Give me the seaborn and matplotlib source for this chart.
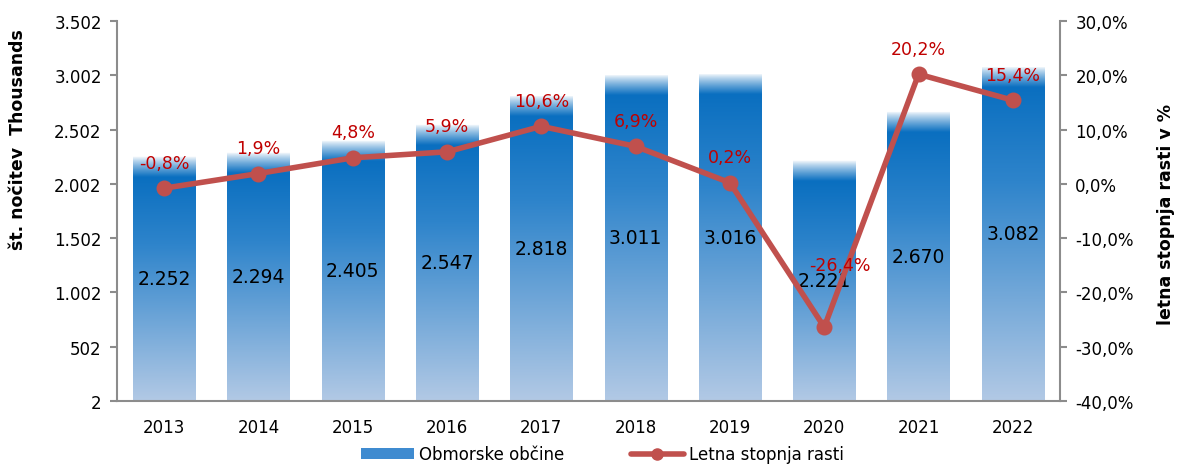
import numpy as np
import pandas as pd
import matplotlib
matplotlib.use("Agg")
import matplotlib.pyplot as plt
import seaborn as sns
from matplotlib.colors import to_rgba
from matplotlib.lines import Line2D
from matplotlib.patches import Patch

years = ["2013", "2014", "2015", "2016", "2017", "2018", "2019", "2020", "2021", "2022"]
nights = [2252, 2294, 2405, 2547, 2818, 3011, 3016, 2221, 2670, 3082]  # thousands
growth = [-0.8, 1.9, 4.8, 5.9, 10.6, 6.9, 0.2, -26.4, 20.2, 15.4]  # %
left_ticks = [2, 502, 1002, 1502, 2002, 2502, 3002, 3502]
right_ticks = [-40, -30, -20, -10, 0, 10, 20, 30]
bar_name = "Obmorske občine"
line_name = "Letna stopnja rasti"

sns.set_theme(style="white")
plt.rcParams["font.family"] = ["DejaVu Sans"]
plt.rcParams["text.color"] = "black"
plt.rcParams["xtick.labelcolor"] = "black"
plt.rcParams["ytick.labelcolor"] = "black"

fig = plt.figure(figsize=(11.81, 4.77), dpi=100)
ax = fig.add_axes([117 / 1181, 1 - 402 / 477, (1060 - 117) / 1181, (402 - 22) / 477])

df = pd.DataFrame({"year": years, "nights": nights, "growth": growth})
sns.barplot(data=df, x="year", y="nights", ax=ax, width=0.66, color="#1F7BC6",
            edgecolor="none", linewidth=0)
ax.set_xlim(-0.5, len(years) - 0.5)
ax.set_ylim(left_ticks[0], left_ticks[-1])

# gradient fill for each bar
top_c = np.array(to_rgba("#0A6FC0"))
mid_c = np.array(to_rgba("#2E84CB"))
bot_c = np.array(to_rgba("#B2C9E5"))
white = np.array([1, 1, 1, 1.0])
fade = 190.0


def grad_column(h, y0, n=300):
    ys = np.linspace(h, y0, n)
    cols = np.zeros((n, 4))
    for i, yv in enumerate(ys):
        d = h - yv
        if d < fade:
            t = (d / fade) ** 0.8
            c = white * (1 - t) + top_c * t
        else:
            t = (d - fade) / max(h - y0 - fade, 1)
            if t < 0.3:
                s = t / 0.3
                c = top_c * (1 - s) + mid_c * s
            else:
                s = (t - 0.3) / 0.7
                c = mid_c * (1 - s) + bot_c * s
        cols[i] = c
    return cols[:, None, :]


for p in ax.patches:
    x0, w, h = p.get_x(), p.get_width(), p.get_height()
    y0 = left_ticks[0]
    ax.imshow(grad_column(h, y0), extent=(x0, x0 + w, y0, h), aspect="auto",
              zorder=2, interpolation="bilinear")
    p.set_visible(False)
ax.set_xlim(-0.5, len(years) - 0.5)
ax.set_ylim(left_ticks[0], left_ticks[-1])

for i, v in enumerate(nights):
    ax.text(i, (v + left_ticks[0]) / 2, f"{v:,}".replace(",", "."), ha="center",
            va="center", fontsize=13.5, color="black", zorder=5)

ax.set_yticks(left_ticks)
ax.set_yticklabels([f"{v:,}".replace(",", ".") for v in left_ticks], fontsize=12)
ax.set_xticks(range(len(years)))
ax.set_xticklabels(years, fontsize=12)
ax.set_xticks(np.arange(-0.5, len(years)), minor=True)
ax.tick_params(axis="x", which="major", length=0, pad=12, labelcolor="black")
ax.tick_params(axis="x", which="minor", length=5, width=1.5, color="#8C8C8C", direction="out")
ax.tick_params(axis="y", length=5, width=1.5, color="#8C8C8C", direction="out",
               left=True, pad=6, labelcolor="black")
ax.set_xlabel("")
ax.set_ylabel("")
for s in ["left", "bottom"]:
    ax.spines[s].set_color("#8C8C8C")
    ax.spines[s].set_linewidth(1.5)
ax.spines["top"].set_visible(False)
ax.spines["right"].set_visible(False)

ax2 = ax.twinx()
sns.pointplot(data=df, x="year", y="growth", ax=ax2, color="#C0504D",
              markers="o", linestyles="-", errorbar=None,
              markersize=8.5, linewidth=4)
ax2.set_xlim(-0.5, len(years) - 0.5)
ax2.set_ylim(right_ticks[0], right_ticks[-1])
ax2.set_yticks(right_ticks)
ax2.set_yticklabels([f"{v:.1f}%".replace(".", ",") for v in right_ticks], fontsize=12)
ax2.tick_params(axis="y", length=5, width=1.5, color="#8C8C8C", direction="out",
                right=True, pad=6, labelcolor="black")
ax2.set_ylabel("")
ax2.set_xlabel("")
ax2.spines["right"].set_color("#8C8C8C")
ax2.spines["right"].set_linewidth(1.5)
for s in ["top", "left", "bottom"]:
    ax2.spines[s].set_visible(False)
ax2.grid(False)

for i, g in enumerate(growth):
    off = (0, 12)
    if g < -20:
        off = (11, 38)
    ax2.annotate(f"{g:.1f}%".replace(".", ","), (i, g), xytext=off,
                 textcoords="offset points", ha="center", va="bottom",
                 fontsize=12.5, color="#C00000", zorder=6)

fig.text(18 / 1181, 1 - 140 / 477, "št. nočitev  Thousands", rotation=90,
         ha="center", va="center", fontsize=12.5, fontweight="bold", color="black")
fig.text(1166 / 1181, 1 - 215 / 477, "letna stopnja rasti v %", rotation=90,
         ha="center", va="center", fontsize=12.5, fontweight="bold", color="black")

handles = [Patch(facecolor="#3F8BD0", edgecolor="none"),
           Line2D([0], [0], color="#C0504D", lw=4, marker="o", markersize=8)]
leg = fig.legend(handles, [bar_name, line_name], loc="lower center",
                 bbox_to_anchor=(0.51, -0.005), ncol=2, frameon=False, fontsize=12,
                 columnspacing=4, handlelength=3.2, handletextpad=0.3)
for t in leg.get_texts():
    t.set_color("black")

fig.savefig("out.png", dpi=100)
